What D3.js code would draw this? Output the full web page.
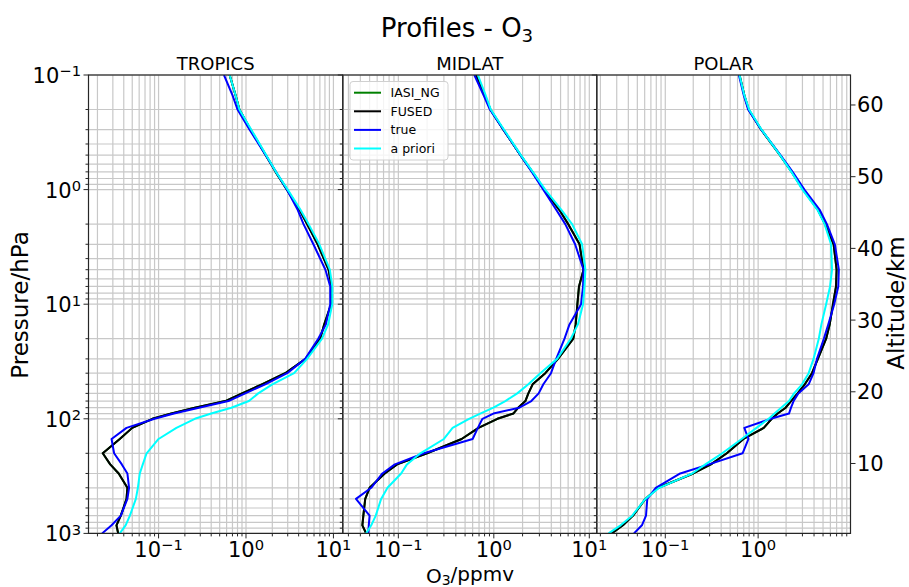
<!DOCTYPE html>
<html>
<head>
<meta charset="utf-8">
<script src="https://cdn.jsdelivr.net/npm/d3@7/dist/d3.min.js"></script>
<style>
  body { margin: 0; background: #fff; }
  text { font-family: "DejaVu Sans", sans-serif; fill: #000; }
</style>
</head>
<body>
<svg id="chart" width="909" height="587"></svg>
<script>
// Pressure grid (hPa) shared by every profile
const pressureLevels = [0.1, 0.15, 0.2, 0.3, 0.5, 0.7, 1, 1.5, 2, 3, 5, 7, 10, 15, 20, 30, 40, 50,
  60, 70, 80, 90, 100, 120, 150, 200, 250, 300, 400, 500, 700, 850, 1000];

// O3 mixing ratio (ppmv) per latitude band
const tropicsFused = [0.65, 0.76, 0.84, 1.13, 1.68, 2.18, 2.94, 4.1, 5.0, 6.6, 8.8, 9.5, 9.4, 7.85, 7.05, 4.8, 2.8, 1.52,
  0.9, 0.58, 0.26, 0.14, 0.085, 0.05, 0.036, 0.023, 0.028, 0.035, 0.044, 0.043, 0.037, 0.033, 0.0345];
const tropicsTrue = [0.56, 0.7, 0.8, 1.1, 1.68, 2.2, 2.94, 3.9, 4.55, 5.9, 8.1, 9.2, 9.2, 8.2, 6.7, 4.75, 2.96, 1.66,
  0.98, 0.63, 0.29, 0.15, 0.09, 0.043, 0.029, 0.031, 0.038, 0.044, 0.046, 0.044, 0.037, 0.029, 0.0226];
const tropicsPrior = [0.65, 0.76, 0.84, 1.15, 1.7, 2.2, 3.0, 4.2, 5.2, 6.9, 9.1, 9.7, 9.7, 8.7, 7.4, 5.0, 3.55, 2.0,
  1.38, 1.08, 0.68, 0.4, 0.26, 0.16, 0.1, 0.073, 0.066, 0.061, 0.058, 0.055, 0.047, 0.042, 0.036];

const midlatFused = [0.65, 0.8, 0.92, 1.26, 1.9, 2.53, 3.37, 4.85, 6.0, 7.9, 8.7, 7.8, 7.5, 7.2, 6.8, 4.7, 3.46, 2.55,
  2.3, 2.14, 1.8, 1.6, 1.09, 0.69, 0.46, 0.2, 0.097, 0.072, 0.05, 0.045, 0.043, 0.042, 0.046];
const midlatTrue = [0.625, 0.78, 0.91, 1.26, 1.9, 2.5, 3.3, 4.5, 5.6, 7.1, 8.7, 8.6, 8.2, 6.2, 5.5, 4.5, 3.97, 3.3,
  2.95, 2.47, 1.85, 0.99, 0.76, 0.68, 0.6, 0.185, 0.092, 0.068, 0.052, 0.036, 0.05, 0.049, 0.0485];
const midlatPrior = [0.68, 0.82, 0.93, 1.28, 1.92, 2.56, 3.45, 5.1, 6.6, 8.4, 9.1, 8.9, 8.6, 7.6, 6.4, 4.6, 3.07, 2.3,
  1.76, 1.32, 0.99, 0.72, 0.55, 0.37, 0.3, 0.17, 0.123, 0.107, 0.077, 0.066, 0.058, 0.052, 0.046];

const polarFused = [0.63, 0.71, 0.79, 1.08, 1.72, 2.3, 3.05, 4.4, 5.25, 6.5, 7.0, 6.9, 6.4, 5.9, 5.4, 4.4, 3.8, 3.18,
  2.66, 2.26, 1.98, 1.62, 1.4, 1.15, 0.695, 0.46, 0.31, 0.2, 0.084, 0.061, 0.045, 0.035, 0.0265];
const polarTrue = [0.62, 0.7, 0.78, 1.08, 1.74, 2.35, 3.15, 4.6, 5.5, 6.7, 7.4, 7.3, 6.6, 5.7, 5.1, 4.3, 3.95, 3.5,
  2.71, 2.41, 2.26, 2.15, 1.37, 0.71, 0.787, 0.68, 0.295, 0.145, 0.079, 0.064, 0.062, 0.056, 0.046];
const polarPrior = [0.63, 0.71, 0.8, 1.09, 1.72, 2.28, 3.0, 4.35, 5.2, 6.1, 6.25, 5.95, 5.4, 4.8, 4.5, 3.95, 3.5, 2.97,
  2.44, 2.15, 1.77, 1.5, 1.3, 0.96, 0.665, 0.41, 0.27, 0.195, 0.086, 0.061, 0.044, 0.033, 0.0245];

const bandNames = ["TROPICS", "MIDLAT", "POLAR"];
const xLimits = [[0.0158, 12.8], [0.0262, 11.98], [0.0183, 9.88]];
const altitudeTicks = [10, 20, 30, 40, 50, 60];
const seriesNames = ["IASI_NG", "FUSED", "true", "a priori"];
const seriesColors = ["#008000", "#000000", "#0000ff", "#00ffff"];

// IASI_NG is drawn first and sits under the FUSED line
const profiles = [
  [tropicsFused, tropicsFused, tropicsTrue, tropicsPrior],
  [midlatFused, midlatFused, midlatTrue, midlatPrior],
  [polarFused, polarFused, polarTrue, polarPrior]
];

const svg = d3.select("#chart");
const plotTop = 75, plotBottom = 533.4;
const panelEdges = [88.5, 342.8, 596.8, 850.5];
const gridColor = "#c8c8c8";
const axisColor = "#262626";
const tickFont = 21;

const y = d3.scaleLog().domain([0.1, 1000]).range([plotTop, plotBottom]);
const yMinor = y.ticks();
const yMajor = [0.1, 1, 10, 100, 1000];

function powerLabel(sel, exponent) {
  sel.text("10");
  sel.append("tspan")
    .attr("dy", "-0.45em")
    .attr("font-size", "0.7em")
    .text(exponent < 0 ? "\u2212" + (-exponent) : String(exponent));
}

bandNames.forEach((band, i) => {
  const x0 = panelEdges[i], x1 = panelEdges[i + 1];
  const x = d3.scaleLog().domain(xLimits[i]).range([x0, x1]);
  const g = svg.append("g");

  const clipId = "clip" + i;
  svg.append("clipPath").attr("id", clipId)
    .append("rect").attr("x", x0).attr("y", plotTop).attr("width", x1 - x0).attr("height", plotBottom - plotTop);

  // grid (major and minor)
  const xTicks = x.ticks().filter(v => v >= xLimits[i][0] && v <= xLimits[i][1]);
  g.append("g").selectAll("line").data(xTicks).join("line")
    .attr("x1", d => x(d)).attr("x2", d => x(d))
    .attr("y1", plotTop).attr("y2", plotBottom)
    .attr("stroke", gridColor).attr("stroke-width", 1.2);
  g.append("g").selectAll("line").data(yMinor).join("line")
    .attr("x1", x0).attr("x2", x1)
    .attr("y1", d => y(d)).attr("y2", d => y(d))
    .attr("stroke", gridColor).attr("stroke-width", 1.2);

  // profiles
  const line = d3.line()
    .x(d => x(d[1]))
    .y(d => y(d[0]));
  const lines = g.append("g").attr("clip-path", `url(#${clipId})`);
  profiles[i].forEach((vals, k) => {
    const pts = pressureLevels.map((p, j) => [p, vals[j]]);
    lines.append("path")
      .attr("d", line(pts))
      .attr("fill", "none")
      .attr("stroke", seriesColors[k])
      .attr("stroke-width", 2)
      .attr("stroke-linejoin", "round");
  });

  // frame
  g.append("rect").attr("x", x0).attr("y", plotTop)
    .attr("width", x1 - x0).attr("height", plotBottom - plotTop)
    .attr("fill", "none").attr("stroke", axisColor).attr("stroke-width", 1.2);

  // bottom ticks
  const xMajor = xTicks.filter(v => Math.abs(Math.log10(v) - Math.round(Math.log10(v))) < 1e-9);
  g.append("g").selectAll("line").data(xTicks).join("line")
    .attr("x1", d => x(d)).attr("x2", d => x(d))
    .attr("y1", plotBottom).attr("y2", d => plotBottom + (xMajor.includes(d) ? 5 : 3))
    .attr("stroke", axisColor).attr("stroke-width", 1);
  g.append("g").selectAll("text").data(xMajor).join("text")
    .attr("x", d => x(d)).attr("y", 557)
    .attr("text-anchor", "middle").attr("font-size", tickFont)
    .each(function (d) { powerLabel(d3.select(this), Math.round(Math.log10(d))); });

  // left ticks on every panel
  g.append("g").selectAll("line").data(yMinor).join("line")
    .attr("x1", x0).attr("x2", d => x0 - (yMajor.includes(d) ? 5 : 3))
    .attr("y1", d => y(d)).attr("y2", d => y(d))
    .attr("stroke", axisColor).attr("stroke-width", 1);

  // panel title
  g.append("text").attr("x", (x0 + x1) / 2).attr("y", 70)
    .attr("text-anchor", "middle").attr("font-size", 18).text(band);
});

// pressure labels
svg.append("g").selectAll("text").data(yMajor).join("text")
  .attr("x", 81).attr("y", d => y(d) + 8)
  .attr("text-anchor", "end").attr("font-size", tickFont)
  .each(function (d) { powerLabel(d3.select(this), Math.round(Math.log10(d))); });

// altitude axis on the right
const alt = d3.scaleLinear().domain([0.25, 64.18]).range([plotBottom, plotTop]);
const altG = svg.append("g");
altG.selectAll("line").data(altitudeTicks).join("line")
  .attr("x1", panelEdges[3]).attr("x2", panelEdges[3] + 5)
  .attr("y1", d => alt(d)).attr("y2", d => alt(d))
  .attr("stroke", axisColor).attr("stroke-width", 1);
altG.selectAll("text").data(altitudeTicks).join("text")
  .attr("x", 857).attr("y", d => alt(d) + 7.5)
  .attr("font-size", tickFont).text(d => d);

// axis labels
svg.append("text").attr("transform", "translate(28,305) rotate(-90)")
  .attr("text-anchor", "middle").attr("font-size", 23).text("Pressure/hPa");
svg.append("text").attr("transform", "translate(904,303) rotate(-90)")
  .attr("text-anchor", "middle").attr("font-size", 23).text("Altitude/km");
const xl = svg.append("text").attr("x", 470).attr("y", 582.5)
  .attr("text-anchor", "middle").attr("font-size", 20);
xl.append("tspan").text("O");
xl.append("tspan").attr("dy", "0.2em").attr("font-size", "0.7em").text("3");
xl.append("tspan").attr("dy", "-0.2em").text("/ppmv");

// figure title
const tt = svg.append("text").attr("x", 457).attr("y", 37)
  .attr("text-anchor", "middle").attr("font-size", 26);
tt.append("tspan").text("Profiles - O");
tt.append("tspan").attr("dy", "0.3em").attr("font-size", "0.7em").text("3");

// legend
const lg = svg.append("g").attr("transform", "translate(350,81.5)");
lg.append("rect").attr("width", 98).attr("height", 78.5).attr("rx", 3)
  .attr("fill", "#fff").attr("fill-opacity", 0.8)
  .attr("stroke", "#d0d0d0").attr("stroke-width", 1);
seriesNames.forEach((name, k) => {
  const yy = 11.2 + k * 18.6;
  lg.append("line").attr("x1", 4).attr("x2", 31).attr("y1", yy).attr("y2", yy)
    .attr("stroke", seriesColors[k]).attr("stroke-width", 2);
  lg.append("text").attr("x", 40.5).attr("y", yy + 4.5).attr("font-size", 12.5).text(name);
});
</script>
</body>
</html>
